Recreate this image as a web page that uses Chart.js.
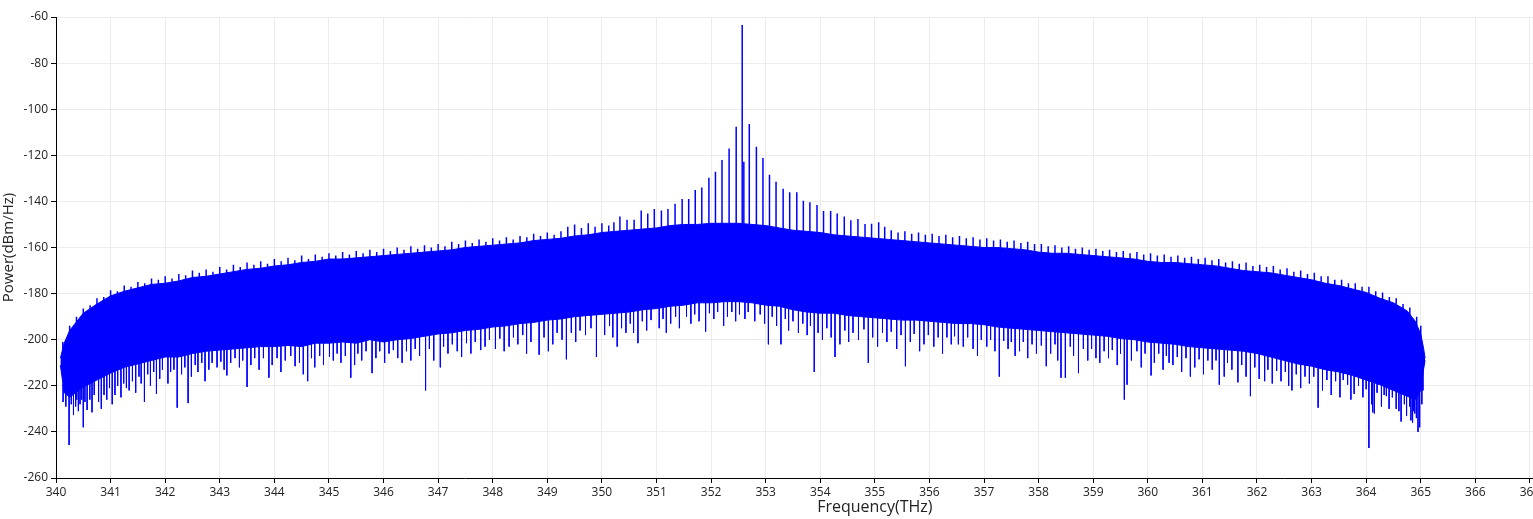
<!DOCTYPE html>
<html>
<head>
<meta charset="utf-8">
<script src="https://cdn.jsdelivr.net/npm/chart.js@4"></script>
<style>
  html, body { margin: 0; padding: 0; background: #fff; overflow: hidden; }
  #wrap { width: 1706px; height: 519px; }
</style>
</head>
<body>
<div id="wrap"><canvas id="spectrum" width="1706" height="519"></canvas></div>
<script>
/*********************************
 DATA
*********************************/
// solid band of the spectrum: frequency grid (THz), top and bottom of the band (dBm/Hz)
const envFreq = [340.08, 340.15, 340.25, 340.5, 340.75, 341, 341.25, 341.5, 341.75, 342, 342.25, 342.5, 342.75,
  343, 343.25, 343.5, 343.75, 344, 344.25, 344.5, 344.75, 345, 345.25, 345.5, 345.75, 346, 346.25, 346.5, 346.75,
  347, 347.25, 347.5, 347.75, 348, 348.25, 348.5, 348.75, 349, 349.25, 349.5, 349.75, 350, 350.25, 350.5, 350.75,
  351, 351.25, 351.5, 351.75, 352, 352.25, 352.5, 352.75, 353, 353.25, 353.5, 353.75, 354, 354.25, 354.5, 354.75,
  355, 355.25, 355.5, 355.75, 356, 356.25, 356.5, 356.75, 357, 357.25, 357.5, 357.75, 358, 358.25, 358.5, 358.75,
  359, 359.25, 359.5, 359.75, 360, 360.25, 360.5, 360.75, 361, 361.25, 361.5, 361.75, 362, 362.25, 362.5, 362.75,
  363, 363.25, 363.5, 363.75, 364, 364.25, 364.5, 364.75, 364.9, 365, 365.05, 365.08];

const envTop = [-208, -201.5, -196, -188.5, -184.5, -181, -179, -177.5, -176, -175.5, -174.5, -173, -172.5,
  -171.5, -170.5, -169.5, -169, -168, -167.5, -166.5, -166, -165, -165, -164.5, -164, -163.5, -163, -162.5, -162,
  -161.5, -161, -160, -159.5, -159, -158.5, -158, -157, -156.5, -156, -155, -154.5, -153.5, -153, -152.5, -152,
  -151.5, -150.5, -150, -150, -149.5, -149.5, -149.5, -150, -150.5, -151.5, -152.5, -153, -153.5, -154.5, -155, -155.5,
  -156, -156.5, -157, -157.5, -158, -158.5, -159, -159.5, -160, -160, -160.5, -161, -162, -162.5, -162.5, -163,
  -163.5, -164, -164.5, -165, -166, -166.5, -166.5, -167, -167.5, -168, -169, -170, -170.5, -171, -172, -173,
  -174, -175.5, -176.5, -178, -179.5, -182, -184, -187.5, -192, -197.5, -203.5, -208];

const envBottom = [-211, -223, -225, -220.5, -217.5, -214.5, -212, -210.5, -209, -207.5, -207.5, -206, -205,
  -204.5, -204, -203.5, -203, -203, -202.5, -203, -201.5, -201.5, -201, -201.5, -200, -201, -200, -199.5, -198.5,
  -197.5, -197, -196, -195.5, -194.5, -194, -193, -192.5, -191.5, -191, -190, -189.5, -189, -188.5, -188, -187,
  -186.5, -185.5, -185, -184, -184, -183.5, -183.5, -184, -185, -185.5, -187, -188, -188.5, -188.5, -189.5, -190,
  -190.5, -191, -191.5, -191.5, -192, -192.5, -193, -193, -193.5, -194.5, -195, -195.5, -196, -196.5, -197, -197.5,
  -198, -198.5, -199.5, -200, -201, -201.5, -202, -203, -203.5, -204, -204.5, -205, -206, -207.5, -209, -210.5,
  -211.5, -213, -214, -215.5, -217.5, -219.5, -222, -224.5, -226, -222, -213, -209];

// comb teeth on top of the band: frequency and peak level
const toothFreq = [340.125, 340.25, 340.375, 340.5, 340.625, 340.75, 340.875, 341, 341.125, 341.25, 341.375,
  341.5, 341.625, 341.75, 341.875, 342, 342.125, 342.25, 342.375, 342.5, 342.625, 342.75, 342.875, 343, 343.125,
  343.25, 343.375, 343.5, 343.625, 343.75, 343.875, 344, 344.125, 344.25, 344.375, 344.5, 344.625, 344.75, 344.875,
  345, 345.125, 345.25, 345.375, 345.5, 345.625, 345.75, 345.875, 346, 346.125, 346.25, 346.375, 346.5, 346.625,
  346.75, 346.875, 347, 347.125, 347.25, 347.375, 347.5, 347.625, 347.75, 347.875, 348, 348.125, 348.25, 348.375,
  348.5, 348.625, 348.75, 348.875, 349, 349.125, 349.25, 349.375, 349.5, 349.625, 349.75, 349.875, 350, 350.125,
  350.22, 350.33, 350.46, 350.59, 350.72, 350.84, 350.96, 351.09, 351.21, 351.34, 351.47, 351.59,
  351.71, 351.83, 351.96, 352.08, 352.20, 352.33, 352.46, 352.57, 352.60, 352.70, 352.83, 352.95, 353.07, 353.19,
  353.32, 353.44, 353.57, 353.69, 353.81, 353.94, 354.06, 354.19, 354.31, 354.44, 354.56, 354.69, 354.82, 354.94,
  355.07, 355.18,
  355.3, 355.425, 355.55, 355.675, 355.8, 355.925, 356.05, 356.175, 356.3, 356.425, 356.55, 356.675, 356.8, 356.925,
  357.05, 357.175, 357.3, 357.425, 357.55, 357.675, 357.8, 357.925, 358.05, 358.175, 358.3, 358.425, 358.55, 358.675,
  358.8, 358.925, 359.05, 359.175, 359.3, 359.425, 359.55, 359.675, 359.8, 359.925, 360.05, 360.175, 360.3, 360.425,
  360.55, 360.675, 360.8, 360.925, 361.05, 361.175, 361.3, 361.425, 361.55, 361.675, 361.8, 361.925, 362.05, 362.175,
  362.3, 362.425, 362.55, 362.675, 362.8, 362.925, 363.05, 363.175, 363.3, 363.425, 363.55, 363.675, 363.8, 363.925,
  364.05, 364.175, 364.3, 364.425, 364.55, 364.675, 364.8, 364.925, 365.0];
const toothTop = [-201, -194, -190, -186.5, -185, -182, -181.5, -178.5, -179, -176.5, -177,
  -175, -175.5, -173.5, -174, -172.5, -173.5, -171.5, -172, -170, -171, -169.5, -170.5, -168.5, -169.5,
  -167.5, -168.5, -166.5, -167.5, -166, -167, -165, -166, -164.5, -165.5, -163.5, -165, -163, -164,
  -162.5, -163.5, -162, -163, -161.5, -162.5, -161, -162, -160.5, -161.5, -160, -161, -159.5, -160.5,
  -159, -160, -158.5, -159.5, -157.5, -158.5, -157, -158, -156.5, -157.5, -156, -157, -155.5, -156.5,
  -155, -155.5, -154, -155, -153.5, -154.5, -153, -151, -150, -151.5, -149.5, -151, -149.5, -150.5,
  -149, -146.6, -148, -148, -144, -145.2, -143.3, -144, -143.3, -141, -139, -139,
  -135, -134, -129.7, -127.1, -122, -117.1, -107.6, -63.5, -122.8, -106.4, -116.3, -121.2, -128.4, -131.5,
  -134.5, -136, -136, -139.7, -140.4, -141.6, -144.2, -144.2, -145.2, -146.6, -148.2, -147.6, -149.8, -149.7,
  -149, -151,
  -152.5, -153.5, -153, -154, -153.5, -154.5, -154, -155, -154.5, -155.5, -155, -156, -155.5, -156.5,
  -156, -157, -156.5, -157.5, -157, -158, -157.5, -158.5, -158.5, -159.5, -159, -160, -159.5, -160.5,
  -160, -161, -160.5, -161.5, -161, -162, -161.5, -162.5, -162, -163, -162.5, -163.5, -163, -164,
  -163.5, -164.5, -164, -165, -164.5, -165.5, -165, -166.5, -166, -167, -166.5, -168, -167.5, -168.5,
  -168, -169.5, -169, -170.5, -170, -171.5, -171, -172.5, -172.5, -174, -174, -175.5, -175.5, -177,
  -177, -179, -179.5, -181.5, -182, -184.5, -186, -190, -194];

// notches under the band: frequency and lowest level
const dipFreq = [340.13, 340.18, 340.24, 340.28, 340.32, 340.36, 340.38, 340.41, 340.44, 340.47, 340.50, 340.53,
  340.57, 340.62, 340.66, 340.70, 340.78, 340.83, 340.88, 340.93, 340.98, 341.03, 341.08, 341.13, 341.19, 341.24,
  341.29, 341.34, 341.40, 341.46, 341.52, 341.56, 341.62, 341.68, 341.73, 341.79, 341.84, 341.90, 341.95, 342.05,
  342.10, 342.16, 342.22, 342.30, 342.36, 342.42, 342.48, 342.55, 342.60, 342.67, 342.73, 342.80, 342.86, 342.95,
  343.02, 343.08, 343.13, 343.20, 343.28, 343.36, 343.42, 343.50, 343.57, 343.64, 343.72, 343.80, 343.90, 343.96,
  344.05, 344.12, 344.20, 344.30, 344.38, 344.46, 344.53, 344.61, 344.68, 344.74, 344.83, 344.90, 345.01, 345.08,
  345.15, 345.22, 345.30, 345.40, 345.47, 345.53, 345.60, 345.68, 345.79, 345.86, 345.93, 346.02, 346.10, 346.18,
  346.26, 346.34, 346.42, 346.50, 346.58, 346.66, 346.77, 346.84, 346.92, 347.04, 347.10, 347.18, 347.26, 347.35,
  347.43, 347.52, 347.60, 347.68, 347.78, 347.86, 347.94, 348.05, 348.13, 348.21, 348.30, 348.38, 348.46, 348.55,
  348.62, 348.70, 348.85, 348.94, 349.02, 349.10, 349.18, 349.27, 349.35, 349.44, 349.52, 349.60, 349.70, 349.80,
  349.90, 350.05, 350.14, 350.20, 350.28, 350.36, 350.44, 350.52, 350.58, 350.66, 350.74, 350.82, 350.90, 351.05,
  351.12, 351.18, 351.26, 351.35, 351.42, 351.55, 351.63, 351.70, 351.78, 351.90, 351.97, 352.05, 352.12, 352.23,
  352.30, 352.38, 352.45, 352.52, 352.62, 352.68, 352.80, 352.90, 352.98, 353.05, 353.12, 353.20, 353.28, 353.36,
  353.42, 353.50, 353.60, 353.68, 353.76, 353.82, 353.89, 353.96, 354.04, 354.12, 354.20, 354.27, 354.36, 354.45,
  354.52, 354.60, 354.70, 354.80, 354.88, 354.96, 355.05, 355.14, 355.22, 355.30, 355.40, 355.48, 355.56, 355.65,
  355.72, 355.82, 355.90, 355.98, 356.08, 356.16, 356.24, 356.32, 356.40, 356.46, 356.53, 356.62, 356.70, 356.80,
  356.88, 356.95, 357.05, 357.12, 357.20, 357.28, 357.36, 357.44, 357.50, 357.57, 357.65, 357.72, 357.80, 357.88,
  357.96, 358.05, 358.14, 358.22, 358.30, 358.35, 358.41, 358.49, 358.58, 358.64, 358.73, 358.82, 358.90, 358.97,
  359.05, 359.12, 359.20, 359.28, 359.35, 359.44, 359.50, 359.57, 359.62, 359.70, 359.80, 359.88, 359.95, 360.06,
  360.12, 360.20, 360.28, 360.34, 360.39, 360.46, 360.54, 360.62, 360.70, 360.78, 360.86, 360.94, 361.02, 361.10,
  361.18, 361.25, 361.31, 361.40, 361.46, 361.54, 361.65, 361.72, 361.80, 361.88, 361.96, 362.04, 362.14, 362.20,
  362.28, 362.36, 362.44, 362.52, 362.58, 362.64, 362.72, 362.80, 362.88, 362.96, 363.04, 363.12, 363.20, 363.28,
  363.36, 363.44, 363.52, 363.58, 363.66, 363.72, 363.78, 363.86, 363.94, 364.00, 364.05, 364.10, 364.12, 364.15,
  364.20, 364.28, 364.33, 364.37, 364.42, 364.48, 364.55, 364.60, 364.64, 364.70, 364.74, 364.80, 364.82, 364.85,
  364.87, 364.89, 364.92, 364.95, 364.98, 365.02, 365.04];
const dipLow = [-227, -229, -245.7, -228, -232.7, -229, -226, -231, -228, -226, -238, -227,
  -230.5, -226, -231.5, -224, -227, -230, -224, -226, -221, -228, -224, -220, -225, -219,
  -221, -222, -218, -223, -216, -219, -227, -215, -220, -214, -223.5, -217, -213, -219,
  -214, -213, -229.5, -215, -212, -227.5, -216, -211, -214, -210, -218, -213, -210, -212,
  -209.5, -213, -215.5, -210, -208, -212, -209, -220.5, -211, -208, -213, -208, -216.5, -211,
  -208, -214, -209, -207, -211.5, -210, -215, -218, -208, -212, -207, -211, -207.5, -209,
  -206, -210, -207, -216.5, -211, -206, -209, -205, -214.5, -208, -205, -210, -206, -204.5,
  -208, -210, -205, -209, -204, -207, -222, -204, -209, -212, -203, -206, -202, -205,
  -207.5, -201.5, -206, -201, -204.5, -203, -200, -204, -199.5, -205, -203, -199, -202, -198,
  -206, -201, -206.5, -199, -205, -202, -197, -200, -208.5, -197, -201, -196, -198, -195,
  -207.5, -198, -194, -199, -203, -195, -197, -193, -197, -201.5, -192, -196, -191.5, -195,
  -191, -197, -193, -190, -195, -190, -193, -189, -192, -196.5, -188.5, -191, -188, -194,
  -190, -188, -192, -189, -191, -188, -192, -189, -193, -202, -190, -194, -202, -191,
  -196, -192, -197, -193, -198, -194, -214, -197, -200, -195, -199, -207.5, -202, -196,
  -201, -197, -200, -195.5, -210, -199, -203, -197, -201, -196.5, -204, -198, -211.5, -201,
  -197.5, -205, -202, -198, -203, -199, -206, -199, -202, -198.5, -202, -203, -199, -204,
  -207, -200, -203, -200, -205, -216, -200.5, -204, -201, -207, -205, -201, -208, -202,
  -206, -202.5, -211.5, -206, -202, -209, -216.5, -216.5, -203, -207, -214.5, -204, -209, -204,
  -208, -210, -205, -208, -204.5, -211, -206, -226, -219.5, -209, -205, -212, -206, -215.5,
  -210, -206, -213, -207, -210, -211, -207.5, -214, -208, -216, -212, -208.5, -215, -209,
  -213, -209, -219.5, -216, -210, -213, -218.5, -211, -216, -224.5, -212, -217, -218, -213,
  -219, -213.5, -218, -214, -220, -222, -215, -221, -216, -219, -216, -229.5, -222, -217.5,
  -224, -218, -225, -217.5, -219.5, -226, -223.5, -220, -225, -221.5, -247, -228, -231.5, -232,
  -223, -229, -224, -224.5, -230, -225, -230, -231, -235.5, -228, -233, -229, -235, -236,
  -231, -232, -234, -240, -238, -228, -222];

// axes (the original axis runs to 370 THz; the picture is cut at 367)
const X_MIN = 340, X_MAX = 370, X_STEP = 1;
const Y_MIN = -260, Y_MAX = -60, Y_STEP = 20;

/*********************************
 BUILD
*********************************/
const BLUE = "#0000ff";

function toPoints(xs, ys) {
  return xs.map((x, i) => ({ x: x, y: ys[i] }));
}

// index of the band grid point closest to f
function nearest(f) {
  let best = 0;
  envFreq.forEach((g, i) => {
    if (Math.abs(g - f) < Math.abs(envFreq[best] - f)) best = i;
  });
  return best;
}

// vertical strokes that start inside the band, separated by null gaps
function toStrokes(xs, ends, anchor) {
  const pts = [];
  xs.forEach((x, i) => {
    pts.push({ x: x, y: anchor(x) }, { x: x, y: ends[i] }, { x: x, y: null });
  });
  return pts;
}

const lineBase = {
  type: "line",
  borderColor: BLUE,
  borderWidth: 1,
  pointRadius: 0,
  tension: 0,
  spanGaps: false,
  fill: false
};

const FONT = "'Open Sans', 'DejaVu Sans', sans-serif";

new Chart(document.getElementById("spectrum"), {
  type: "line",
  data: {
    datasets: [
      { ...lineBase, data: toPoints(envFreq, envTop), fill: "+1", backgroundColor: BLUE },
      { ...lineBase, data: toPoints(envFreq, envBottom) },
      { ...lineBase, borderWidth: 1.5, data: toStrokes(toothFreq, toothTop, f => envTop[nearest(f)] - 4) },
      { ...lineBase, data: toStrokes(dipFreq, dipLow, f => envBottom[nearest(f)] + 4) }
    ]
  },
  options: {
    responsive: false,
    animation: false,
    layout: { padding: { top: 17, left: 0, right: 0, bottom: 0 } },
    plugins: { legend: { display: false }, tooltip: { enabled: false } },
    scales: {
      x: {
        type: "linear",
        min: X_MIN,
        max: X_MAX,
        offset: false,
        ticks: { stepSize: X_STEP, color: "#222", font: { family: FONT, size: 12 }, maxRotation: 0, padding: 2 },
        grid: { color: "#ececec", tickColor: "#000", tickLength: 5 },
        border: { color: "#000", width: 1 },
        title: { display: true, text: "Frequency(THz)", color: "#222", font: { family: FONT, size: 16 }, padding: { top: 0, bottom: 2 } },
        afterFit: s => { s.height = 41; }
      },
      y: {
        min: Y_MIN,
        max: Y_MAX,
        ticks: { stepSize: Y_STEP, color: "#222", font: { family: FONT, size: 12 }, padding: 3 },
        grid: { color: "#ececec", tickColor: "#000", tickLength: 5 },
        border: { color: "#000", width: 1 },
        title: { display: true, text: "Power(dBm/Hz)", color: "#222", font: { family: FONT, size: 15 }, padding: { top: 0, bottom: 2 } },
        afterFit: s => { s.width = 56; }
      }
    }
  }
});
</script>
</body>
</html>
